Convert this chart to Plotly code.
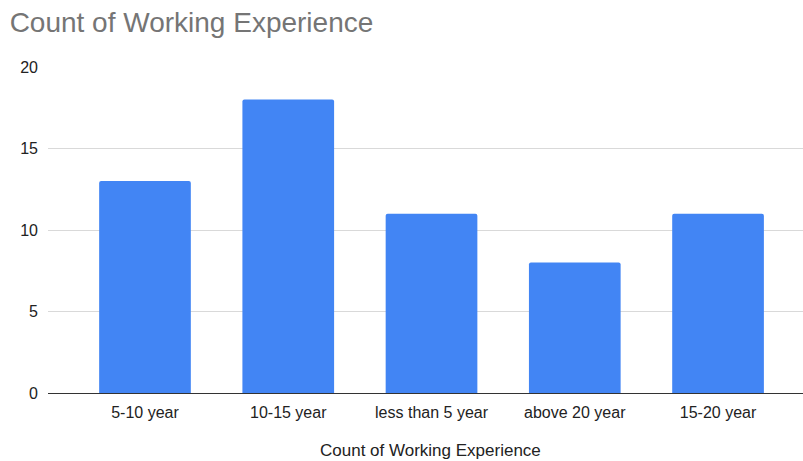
import plotly.graph_objects as go

# Survey counts by years of working experience
categories = ["5-10 year", "10-15 year", "less than 5 year", "above 20 year", "15-20 year"]
counts = [13, 18, 11, 8, 11]
y_ticks = [0, 5, 10, 15, 20]
x_title = "Count of Working Experience"

fig = go.Figure(
    go.Bar(
        x=categories,
        y=counts,
        width=0.64,
        marker=dict(color="#4285F4", line=dict(width=0), cornerradius=2),
        showlegend=False,
    )
)

fig.update_layout(
    width=803,
    height=461,
    margin=dict(l=48, r=0, t=67, b=68),
    paper_bgcolor="white",
    plot_bgcolor="white",
    font=dict(family="Liberation Sans, Arial, sans-serif", color="#222222"),
    title=dict(
        text="Count of Working Experience",
        x=0.012,
        xanchor="left",
        y=0.952,
        yanchor="middle",
        font=dict(size=28, color="#757575"),
    ),
    xaxis=dict(
        range=[-0.677, 4.593],
        showgrid=False,
        showline=True,
        linecolor="#333333",
        linewidth=1,
        ticks="",
        ticklabelstandoff=5,
        tickfont=dict(size=16, color="#222222"),
    ),
    yaxis=dict(
        range=[0, 20],
        tickvals=y_ticks,
        showgrid=True,
        gridcolor="#d9d9d9",
        gridwidth=1,
        zeroline=False,
        showline=False,
        ticks="",
        ticklabelstandoff=9,
        tickfont=dict(size=16, color="#222222"),
    ),
    annotations=[
        dict(
            text=x_title,
            xref="paper",
            yref="paper",
            x=(431 - 48) / 755,
            y=-57 / 326,
            xanchor="center",
            yanchor="middle",
            showarrow=False,
            font=dict(size=17, color="#222222"),
        )
    ],
)

fig.write_html("out.html")
